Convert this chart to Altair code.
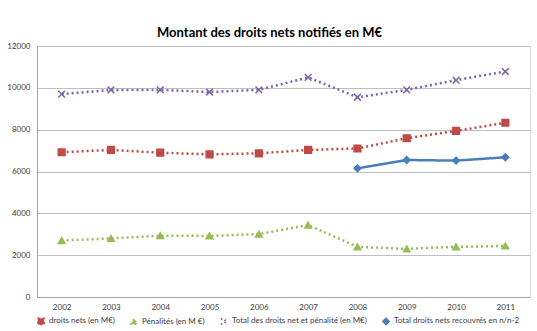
import altair as alt
import pandas as pd

years = ["2002", "2003", "2004", "2005", "2006", "2007", "2008", "2009", "2010", "2011"]
series_names = [
    "droits nets (en M€)",
    "Pénalités (en M €)",
    "Total des droits net et pénalité (en M€)",
    "Total droits nets recouvrés en n/n-2",
]
droits_nets = [6920, 7030, 6900, 6820, 6870, 7030, 7100, 7590, 7940, 8330]
penalites = [2700, 2800, 2930, 2920, 3010, 3440, 2400, 2300, 2400, 2440]
total = [9700, 9900, 9900, 9800, 9900, 10500, 9550, 9900, 10370, 10780]
recouvres = [None, None, None, None, None, None, 6150, 6550, 6520, 6680]

colors = ["#BE4B48", "#9BBB59", "#7E64A8", "#4A7EBB"]
shapes = ["square", "triangle-up", "M-1,-1L1,1M-1,1L1,-1", "diamond"]
dashes = [[2, 3], [2, 3], [2, 3], [1, 0]]

rows = []
for name, vals in zip(series_names, [droits_nets, penalites, total, recouvres]):
    for y, v in zip(years, vals):
        if v is not None:
            rows.append({"year": y, "value": v, "series": name})
df = pd.DataFrame(rows)

font = "Lato"

x_enc = alt.X("year:N", scale=alt.Scale(type="point", padding=0.5), sort=years,
              axis=alt.Axis(title=None, labelAngle=0, ticks=False, grid=False,
                            domainColor="#A6A6A6", labelFontSize=8, labelColor="#404040",
                            labelPadding=6, labelFont=font))
y_enc = alt.Y("value:Q", scale=alt.Scale(domain=[0, 12000]),
              axis=alt.Axis(title=None, values=[0, 2000, 4000, 6000, 8000, 10000, 12000],
                            ticks=False, gridColor="#BFBFBF", domainColor="#A6A6A6",
                            labelFontSize=8, labelColor="#404040", labelPadding=7,
                            labelFont=font, format="d"))

color_scale = alt.Scale(domain=series_names, range=colors)
legend = alt.Legend(title=None, orient="bottom", direction="horizontal",
                    labelFontSize=8, labelColor="#404040", labelFont=font,
                    symbolSize=40, symbolStrokeWidth=1.5, offset=6, columnPadding=12,
                    labelLimit=300)

base = alt.Chart(df)

lines = base.mark_line(strokeWidth=2.5).encode(
    x=x_enc, y=y_enc,
    color=alt.Color("series:N", scale=color_scale, legend=legend, sort=series_names),
    strokeDash=alt.StrokeDash("series:N", scale=alt.Scale(domain=series_names, range=dashes),
                              legend=legend, sort=series_names),
)

points = base.mark_point(filled=True, size=45, strokeWidth=1.5, opacity=1).encode(
    x=x_enc, y=y_enc,
    color=alt.Color("series:N", scale=color_scale, legend=legend, sort=series_names),
    stroke=alt.Stroke("series:N", scale=color_scale, legend=legend, sort=series_names),
    shape=alt.Shape("series:N", scale=alt.Scale(domain=series_names, range=shapes),
                    legend=legend, sort=series_names),
)

chart = alt.layer(lines, points).properties(
    width=493, height=251,
    title=alt.TitleParams("Montant des droits nets notifiés en M€", fontSize=13,
                          fontWeight="bold", font=font, color="#000000",
                          anchor="middle", offset=10, dx=-14, dy=8),
    autosize=alt.AutoSizeParams(type="none"),
    padding={"left": 37, "top": 46, "right": 7, "bottom": 34},
).configure_view(stroke=None).configure(background="white")

chart.save("out.html", embed_options={"renderer": "svg", "actions": False})
